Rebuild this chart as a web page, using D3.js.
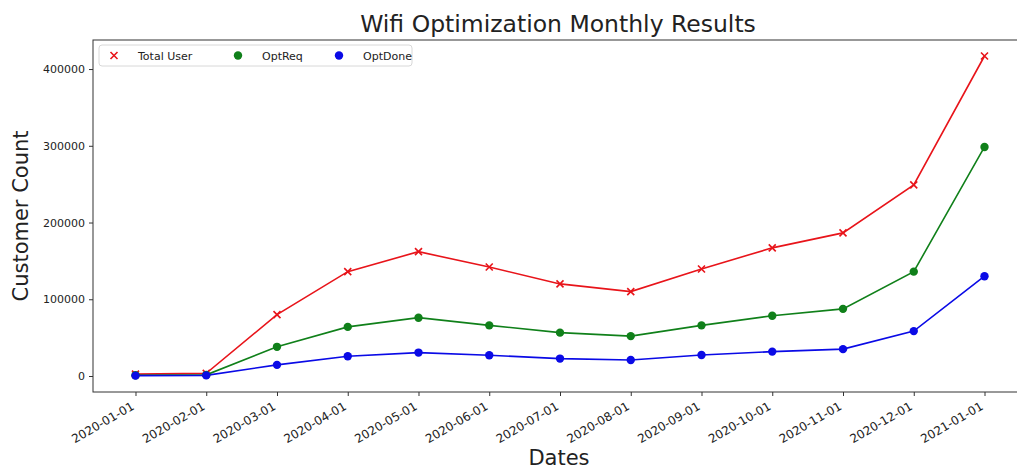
<!DOCTYPE html>
<meta charset="utf-8">
<style>
  body { margin: 0; background: #fff; overflow: hidden; }
  text { font-family: "DejaVu Sans", sans-serif; fill: #222; }
</style>
<svg id="chart" width="1017" height="469"></svg>
<script src="https://cdn.jsdelivr.net/npm/d3@7"></script>
<script>
  'use strict';

  const months = ["2020-01-01", "2020-02-01", "2020-03-01", "2020-04-01", "2020-05-01", "2020-06-01",
                  "2020-07-01", "2020-08-01", "2020-09-01", "2020-10-01", "2020-11-01", "2020-12-01", "2021-01-01"];
  const totalUser = [2500, 3500, 80000, 136000, 162000, 142000, 120000, 110000, 139500, 167000, 186500, 249000, 417000];
  const optReq    = [1000, 1500, 38000, 64000, 76000, 66000, 56500, 52000, 66000, 78500, 87500, 136000, 298500];
  const optDone   = [500, 800, 14500, 25800, 30500, 27000, 22700, 20800, 27300, 31800, 35000, 58500, 130000];
  const yTicks = [0, 100000, 200000, 300000, 400000];

  const series = [
    {name: "Total User", values: totalUser, color: "#e8141a", marker: "x"},
    {name: "OptReq", values: optReq, color: "#10801a", marker: "o"},
    {name: "OptDone", values: optDone, color: "#0a0ae6", marker: "o"}
  ];

  const margin = {top: 40, left: 93},
        plotW = 934, plotH = 352;

  const svg = d3.select("#chart");
  const g = svg.append("g").attr("transform", `translate(${margin.left},${margin.top})`);

  // categorical x with matplotlib-style 5% margins
  const x = d3.scalePoint().domain(months).range([plotW * 0.0455, plotW * (1 - 0.0455)]);
  const yMax = d3.max(totalUser), pad = yMax * 0.05;
  const y = d3.scaleLinear().domain([-pad, yMax + pad]).range([plotH, 0]);

  // lines
  const line = d3.line().x((d, i) => x(months[i])).y((d) => y(d));
  series.forEach((s) => {
    g.append("path")
      .datum(s.values)
      .attr("fill", "none")
      .attr("stroke", s.color)
      .attr("stroke-width", 1.6)
      .attr("d", line);
  });

  // markers
  series.forEach((s) => {
    const m = g.append("g");
    s.values.forEach((v, i) => {
      const cx = x(months[i]), cy = y(v);
      if (s.marker === "x") {
        m.append("path")
          .attr("d", `M${cx - 3.5},${cy - 3.5}L${cx + 3.5},${cy + 3.5}M${cx - 3.5},${cy + 3.5}L${cx + 3.5},${cy - 3.5}`)
          .attr("stroke", s.color).attr("stroke-width", 1.6);
      } else {
        m.append("circle").attr("cx", cx).attr("cy", cy).attr("r", 4.2).attr("fill", s.color);
      }
    });
  });

  // axes
  const xAxis = g.append("g")
    .attr("transform", `translate(0,${plotH})`)
    .call(d3.axisBottom(x).tickSize(4).tickPadding(3));
  // rotated like autofmt_xdate: right end of the label under the tick
  xAxis.selectAll("text")
    .style("font-size", "12px")
    .attr("text-anchor", "end")
    .attr("y", 0)
    .attr("dy", "0.93em")
    .attr("transform", "translate(-6.5,7) rotate(-30)");

  const yAxis = g.append("g")
    .call(d3.axisLeft(y).tickValues(yTicks).tickFormat(d3.format("d")).tickSize(4).tickPadding(4));
  yAxis.selectAll("text").style("font-size", "11px");

  [xAxis, yAxis].forEach((a) => {
    a.select(".domain").remove();
    a.selectAll("line").attr("stroke", "#333");
  });

  // frame
  g.append("rect")
    .attr("width", plotW).attr("height", plotH)
    .attr("fill", "none").attr("stroke", "#333").attr("stroke-width", 1);

  // legend
  const legend = g.append("g").attr("transform", "translate(6,5)");
  legend.append("rect")
    .attr("width", 313).attr("height", 21).attr("rx", 3)
    .attr("fill", "#fff").attr("stroke", "#d8d8d8");
  const legX = [15, 139, 240];
  series.forEach((s, i) => {
    const lx = legX[i], ly = 10.5;
    if (s.marker === "x") {
      legend.append("path")
        .attr("d", `M${lx - 3.5},${ly - 3.5}L${lx + 3.5},${ly + 3.5}M${lx - 3.5},${ly + 3.5}L${lx + 3.5},${ly - 3.5}`)
        .attr("stroke", s.color).attr("stroke-width", 1.6);
    } else {
      legend.append("circle").attr("cx", lx).attr("cy", ly).attr("r", 4.2).attr("fill", s.color);
    }
    legend.append("text")
      .attr("x", lx + 24).attr("y", ly + 4)
      .style("font-size", "11px")
      .text(s.name);
  });

  // titles
  svg.append("text")
    .attr("x", 558).attr("y", 32)
    .attr("text-anchor", "middle")
    .style("font-size", "23.5px")
    .text("Wifi Optimization Monthly Results");

  svg.append("text")
    .attr("x", 559).attr("y", 465)
    .attr("text-anchor", "middle")
    .style("font-size", "21px")
    .text("Dates");

  svg.append("text")
    .attr("transform", `translate(28,${margin.top + plotH / 2}) rotate(-90)`)
    .attr("text-anchor", "middle")
    .style("font-size", "21px")
    .text("Customer Count");
</script>
